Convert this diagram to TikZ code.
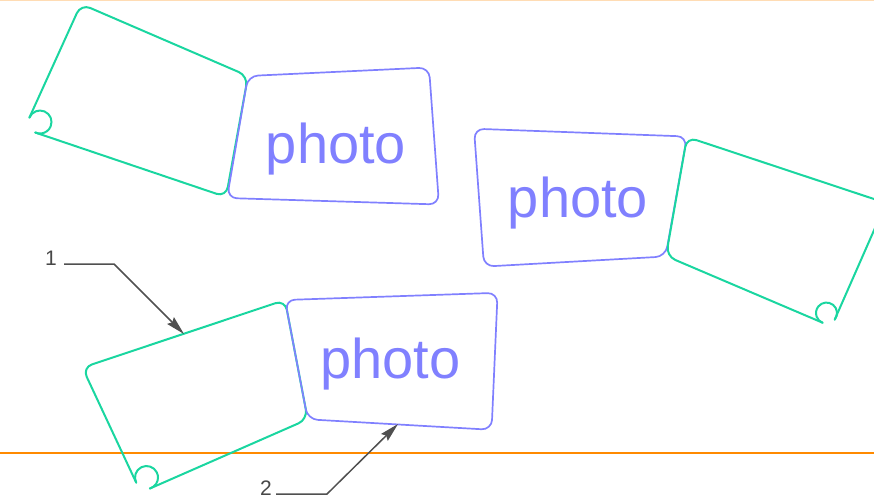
\documentclass[tikz,border=0pt]{standalone}
\usepackage{fontspec}
\setmainfont{Liberation Sans}
\usetikzlibrary{arrows.meta}
\definecolor{cardgreen}{HTML}{1AD6A0}
\definecolor{cardpurple}{HTML}{8080FF}
\definecolor{leadgray}{HTML}{505050}
\definecolor{paleorange}{HTML}{FFDCB4}
\definecolor{deeporange}{HTML}{FF8A00}
\tikzset{
  foldcard/.style={draw=cardgreen, line width=2pt, rounded corners=10pt, line join=round, line cap=round},
  hookarc/.style={draw=cardgreen, line width=2pt, line cap=round},
  photocard/.style={draw=cardpurple, line width=1.7pt, rounded corners=10pt},
  phototext/.style={text=cardpurple, font=\fontsize{56}{60}\selectfont, anchor=base, inner sep=0pt},
  numlabel/.style={text=leadgray!90!black, font=\fontsize{21}{24}\selectfont, anchor=base, inner sep=0pt},
  leader/.style={draw=leadgray, line width=1.5pt, -{Stealth[length=19pt,width=9.5pt,inset=2.5pt]}}
}
\begin{document}
\begin{tikzpicture}[x=1pt,y=1pt,yscale=-1]
\useasboundingbox (0,0) rectangle (874,501);
\clip (0,0) rectangle (874,501);
% guide lines
\draw[paleorange, line width=2pt] (0,0) -- (874,0);
\draw[deeporange, line width=2pt] (0,453) -- (874,453);

% group 1 (top left)
\draw[foldcard] (35.2,132.5) -- (226,197) -- (248,76) -- (81,4) -- (29.4,117.6);
\draw[hookarc] (29.4,117.6) arc[start angle=202.6, end angle=474.4, radius=11.5];
\draw[photocard] (248,76) -- (429,67.5) -- (439,204.5) -- (227,198) -- cycle;
\node[phototext] (p1) at (336,163) {photo};

% group 2 (top right)
\draw[photocard] (474,128.7) -- (687,136.5) -- (665.5,256.5) -- (484,266.6) -- cycle;
\node[phototext] (p2) at (578,217) {photo};
\draw[foldcard] (822.6,322.7) -- (666,256) -- (687,137) -- (886,203) -- (834.7,319.6);
\draw[hookarc] (834.7,319.6) arc[start angle=38.7, end angle=-248.2, radius=10.5];

% group 3 (bottom)
\draw[foldcard] (149.9,488.5) -- (307.7,419.3) -- (285,300) -- (82.4,367.6) -- (136.2,482.6);
\draw[hookarc] (136.2,482.6) arc[start angle=153.6, end angle=433, radius=11.5];
\draw[photocard] (285,300) -- (497.6,292.8) -- (491.6,429.8) -- (307.7,419.3) -- cycle;
\node[phototext] (p3) at (390.5,378) {photo};

% annotations
\node[numlabel] (l1) at (51,265) {1};
\coordinate (k1) at (114,264);
\coordinate (t1) at (184,334);
\draw[leader] ([xshift=7pt,yshift=-1pt]l1.base east) -- (k1) -- (t1);

\node[numlabel] (l2) at (266,495) {2};
\coordinate (k2) at (327,494);
\coordinate (t2) at (398,424);
\draw[leader] ([xshift=4pt,yshift=-1pt]l2.base east) -- (k2) -- (t2);
\end{tikzpicture}
\end{document}
